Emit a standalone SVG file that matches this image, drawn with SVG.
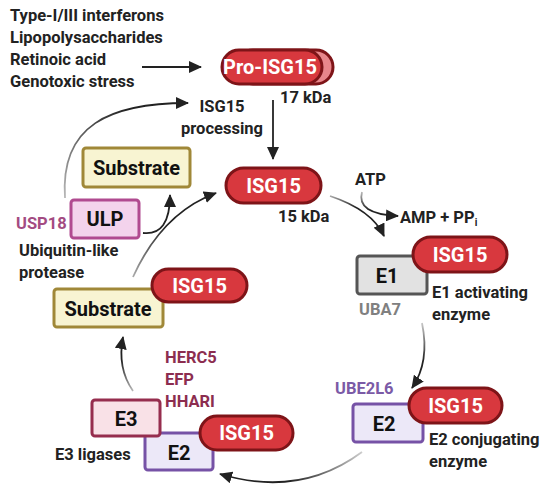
<svg xmlns="http://www.w3.org/2000/svg" width="550" height="495" viewBox="0 0 550 495">
<style>
text{font-family:Roboto,"Liberation Sans",sans-serif;font-weight:700;fill:#222}
.lbl{font-size:16.5px}
.pilltxt{font-size:20px;fill:#fff;text-anchor:middle}
.boxtxt{font-size:20px;fill:#111;text-anchor:middle}
.pill{fill:#d8383e;stroke:#7e1418;stroke-width:3}
.e1{fill:#e2e2e2;stroke:#555;stroke-width:3}
.e2{fill:#ece8f8;stroke:#7652a6;stroke-width:3}
.e3{fill:#f9e1e7;stroke:#962d4e;stroke-width:3}
.ulp{fill:#f3d3ec;stroke:#b04a90;stroke-width:3}
.sub{fill:#f8f4d2;stroke:#a08838;stroke-width:3}
.conn path,.conn line{fill:none;stroke-width:1.8}
</style>
<defs>
<marker id="ah" markerUnits="userSpaceOnUse" markerWidth="14" markerHeight="12" refX="12" refY="6" orient="auto">
<path d="M0,0 L13,6 L0,12 z" fill="#222"/>
</marker>
<linearGradient id="g1" gradientUnits="userSpaceOnUse" x1="65" y1="200" x2="120" y2="105"><stop offset="0" stop-color="#bbb"/><stop offset="1" stop-color="#222"/></linearGradient>
<linearGradient id="g2" gradientUnits="userSpaceOnUse" x1="422" y1="322" x2="418" y2="360"><stop offset="0" stop-color="#ccc"/><stop offset="1" stop-color="#222"/></linearGradient>
<linearGradient id="g3" gradientUnits="userSpaceOnUse" x1="362" y1="452" x2="290" y2="485"><stop offset="0" stop-color="#ccc"/><stop offset="1" stop-color="#222"/></linearGradient>
<linearGradient id="g4" gradientUnits="userSpaceOnUse" x1="133" y1="392" x2="122" y2="360"><stop offset="0" stop-color="#bbb"/><stop offset="1" stop-color="#222"/></linearGradient>
<linearGradient id="g5" gradientUnits="userSpaceOnUse" x1="133" y1="277" x2="165" y2="225"><stop offset="0" stop-color="#aaa"/><stop offset="1" stop-color="#222"/></linearGradient>
<linearGradient id="g6" gradientUnits="userSpaceOnUse" x1="330" y1="196" x2="355" y2="210"><stop offset="0" stop-color="#aaa"/><stop offset="1" stop-color="#222"/></linearGradient>
<linearGradient id="g7" gradientUnits="userSpaceOnUse" x1="362" y1="192" x2="362" y2="210"><stop offset="0" stop-color="#bbb"/><stop offset="1" stop-color="#222"/></linearGradient>
</defs>

<g id="connectors" class="conn">
<line x1="142" y1="67" x2="201" y2="67" stroke="#222" marker-end="url(#ah)"/>
<line x1="273" y1="100" x2="273" y2="159" stroke="#222" marker-end="url(#ah)"/>
<path d="M65 198 C60 125 110 103 188 103" stroke="url(#g1)" marker-end="url(#ah)"/>
<path d="M330 196 Q372 210 384 236" stroke="url(#g6)" marker-end="url(#ah)"/>
<path d="M362 192 Q356 214 398 216" stroke="url(#g7)" marker-end="url(#ah)"/>
<path d="M422 323 Q430 362 412 388" stroke="url(#g2)" marker-end="url(#ah)"/>
<path d="M362 452 Q300 498 220 474" stroke="url(#g3)" marker-end="url(#ah)"/>
<path d="M133 391 Q117 368 123 337" stroke="url(#g4)" marker-end="url(#ah)"/>
<path d="M143 233 Q170 236 170 195" stroke="#222" marker-end="url(#ah)"/>
<path d="M133 277 Q162 213 216 193" stroke="url(#g5)" marker-end="url(#ah)"/>
</g>

<g id="inducers">
<text class="lbl" x="10" y="21">Type-I/III interferons</text>
<text class="lbl" x="10" y="43">Lipopolysaccharides</text>
<text class="lbl" x="10" y="65">Retinoic acid</text>
<text class="lbl" x="10" y="87">Genotoxic stress</text>
</g>

<g id="pro-isg15">
<rect x="236" y="50" width="97" height="34" rx="17" fill="#e8868b" stroke="#7e1418" stroke-width="3"/>
<rect class="pill" x="222" y="50" width="100" height="34" rx="17"/>
<text class="pilltxt" x="270" y="74">Pro-ISG15</text>
<text class="lbl" x="280" y="103">17 kDa</text>
</g>

<g id="processing">
<text class="lbl" x="222" y="112" text-anchor="middle">ISG15</text>
<text class="lbl" x="222" y="134" text-anchor="middle">processing</text>
</g>

<g id="isg15">
<rect class="pill" x="226" y="168" width="95" height="35" rx="17.5"/>
<text class="pilltxt" x="273.5" y="193">ISG15</text>
<text class="lbl" x="278" y="222">15 kDa</text>
</g>

<g id="atp">
<text class="lbl" x="355" y="185">ATP</text>
<text class="lbl" x="400" y="223">AMP + PP<tspan font-size="10" dy="3">i</tspan></text>
</g>

<g id="e1">
<rect class="e1" x="357" y="256" width="70" height="38" rx="3"/>
<text class="boxtxt" x="387" y="283">E1</text>
<rect class="pill" x="413" y="237" width="94" height="35" rx="17.5"/>
<text class="pilltxt" x="460" y="262">ISG15</text>
<text class="lbl" x="432" y="298">E1 activating</text>
<text class="lbl" x="432" y="320">enzyme</text>
<text class="lbl" x="359" y="315" fill="#808080" style="fill:#808080">UBA7</text>
</g>

<g id="e2">
<text class="lbl" x="335" y="394" style="fill:#7b5aa6">UBE2L6</text>
<rect class="e2" x="353" y="404" width="70" height="38" rx="3"/>
<text class="boxtxt" x="384" y="431">E2</text>
<rect class="pill" x="409" y="388" width="93" height="35" rx="17.5"/>
<text class="pilltxt" x="455.5" y="413">ISG15</text>
<text class="lbl" x="429" y="445">E2 conjugating</text>
<text class="lbl" x="429" y="467">enzyme</text>
</g>

<g id="e3-complex">
<rect class="e2" x="145" y="433" width="68" height="37" rx="3"/>
<text class="boxtxt" x="179" y="460">E2</text>
<rect class="e3" x="92" y="400" width="68" height="36" rx="3"/>
<text class="boxtxt" x="126" y="426">E3</text>
<rect class="pill" x="200" y="416" width="93" height="34" rx="17"/>
<text class="pilltxt" x="246.5" y="440">ISG15</text>
<text class="lbl" x="55" y="460">E3 ligases</text>
</g>

<g id="e3-names">
<text class="lbl" x="165" y="363" style="fill:#8c2d4f">HERC5</text>
<text class="lbl" x="165" y="385" style="fill:#8c2d4f">EFP</text>
<text class="lbl" x="165" y="407" style="fill:#8c2d4f">HHARI</text>
</g>

<g id="substrate-isg15">
<rect class="sub" x="54" y="289" width="109" height="38" rx="3"/>
<text class="boxtxt" x="108" y="316">Substrate</text>
<rect class="pill" x="152" y="269" width="95" height="33" rx="16.5"/>
<text class="pilltxt" x="199.5" y="293">ISG15</text>
</g>

<g id="ulp">
<rect class="ulp" x="71" y="200" width="68" height="38" rx="3"/>
<text class="boxtxt" x="105" y="226">ULP</text>
<text class="lbl" x="16" y="229" style="fill:#a34b82">USP18</text>
<text class="lbl" x="19" y="256">Ubiquitin-like</text>
<text class="lbl" x="19" y="278">protease</text>
</g>

<g id="substrate">
<rect class="sub" x="83" y="148" width="107" height="39" rx="3"/>
<text class="boxtxt" x="136.5" y="175">Substrate</text>
</g>
</svg>
